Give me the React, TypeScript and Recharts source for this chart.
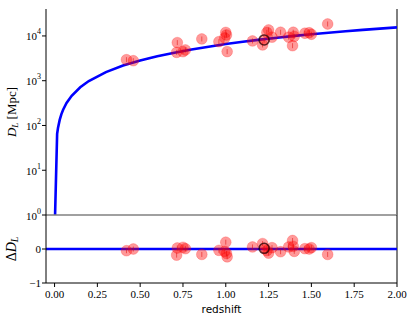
import React from 'react';
import { ComposedChart, Line, Scatter, XAxis, YAxis, ReferenceLine } from 'recharts';

// model curve D_L(z)
const curveZ = [0.003, 0.015, 0.02, 0.03, 0.04, 0.05, 0.07, 0.1, 0.15, 0.2, 0.3, 0.4, 0.5, 0.6, 0.7, 0.8, 0.9, 1.0, 1.1, 1.2, 1.3, 1.4, 1.5, 1.6, 1.7, 1.8, 1.9, 2.0];
const curveDL = [1, 65, 88, 133, 180, 225, 318, 460, 715, 983, 1555, 2190, 2832, 3520, 4235, 4980, 5750, 6607, 7434, 8279, 9140, 10018, 10908, 11812, 12728, 13656, 14593, 15540];

// measured sources
const srcZ = [0.42, 0.46, 0.717, 0.713, 0.75, 0.764, 0.86, 0.96, 1.0, 0.994, 1.004, 1.008, 1.156, 1.215, 1.224, 1.24, 1.25, 1.27, 1.32, 1.367, 1.39, 1.394, 1.4, 1.462, 1.487, 1.5, 1.595];
const srcDL = [2950, 2800, 7100, 4300, 4450, 4860, 8570, 7460, 12000, 9000, 10500, 4470, 7730, 6300, 8130, 12000, 13600, 9400, 12100, 9400, 6060, 12100, 9800, 11500, 11800, 10900, 18500];
const srcRes = [-0.05, 0.0, 0.03, -0.18, 0.05, 0.01, -0.16, -0.04, 0.2, -0.07, -0.13, -0.23, 0.06, 0.16, 0.02, -0.05, -0.12, 0.04, -0.08, 0.06, 0.25, 0.08, -0.07, 0.01, 0.0, 0.04, -0.16];

// highlighted source
const hostZ = [1.224];
const hostDL = [8130];
const hostRes = [0.02];

const xTicks = [0, 0.25, 0.5, 0.75, 1.0, 1.25, 1.5, 1.75, 2.0];
const topTicks = [1, 10, 100, 1000, 10000];
const resTicks = [-1, 0];

const curveData = curveZ.map((z, i) => ({ z, dl: curveDL[i] }));
const srcData = srcZ.map((z, i) => ({ z, dl: srcDL[i], res: srcRes[i] }));
const hostData = hostZ.map((z, i) => ({ z, dl: hostDL[i], res: hostRes[i] }));

const serif = '"Liberation Serif", "DejaVu Serif", serif';

const RedDot = (props: any) => (
  <g>
    <circle cx={props.cx} cy={props.cy} r={5.4} fill="#ff0000" fillOpacity={0.4} stroke="#ff0000" strokeOpacity={0.2} strokeWidth={1} />
    <line x1={props.cx} x2={props.cx} y1={props.cy - 2.5} y2={props.cy + 2.5} stroke="#e00000" strokeOpacity={0.5} strokeWidth={1} />
  </g>
);

const Ring = (props: any) => (
  <circle cx={props.cx} cy={props.cy} r={5} fill="none" stroke="#000" strokeOpacity={0.65} strokeWidth={1.6} />
);

const Nothing = () => <g />;

const XTick = ({ x, y, payload }: any) => (
  <text x={x} y={y} dy={9} textAnchor="middle" fontFamily={serif} fontSize={11} fill="#000">
    {payload.value.toFixed(2)}
  </text>
);

const PowTick = ({ x, y, payload }: any) => (
  <text x={x + 1} y={y} dy={4.5} textAnchor="end" fontFamily={serif} fontSize={11} fill="#000">
    <tspan>10</tspan>
    <tspan dy={-6} fontSize={8}>{Math.round(Math.log10(payload.value))}</tspan>
  </text>
);

const ResTick = ({ x, y, payload }: any) => (
  <text x={x + 1} y={y} dy={4} textAnchor="end" fontFamily={serif} fontSize={11} fill="#000">
    {payload.value < 0 ? '\u2212' + Math.abs(payload.value) : String(payload.value)}
  </text>
);

export default function App() {
  return (
    <div style={{ position: 'absolute', left: 0, top: 0, width: 415, height: 323, background: '#fff' }}>
      <div style={{ position: 'absolute', left: 0, top: 0 }}>
        <ComposedChart width={415} height={230} margin={{ top: 9, right: 18, bottom: 15, left: 0 }}>
          <XAxis
            xAxisId="t"
            orientation="top"
            type="number"
            dataKey="z"
            domain={[-0.05, 2]}
            ticks={xTicks}
            interval={0}
            allowDataOverflow
            height={0}
            tick={Nothing}
            tickSize={4}
            axisLine={{ stroke: '#000' }}
            tickLine={{ stroke: '#000' }}
          />
          <YAxis
            scale="log"
            type="number"
            domain={[1, 40000]}
            ticks={topTicks}
            interval={0}
            allowDataOverflow
            width={46}
            tickSize={4}
            tickMargin={2}
            tick={PowTick}
            axisLine={{ stroke: '#000' }}
            tickLine={{ stroke: '#000' }}
          />
          <ReferenceLine xAxisId="t" x={2} stroke="#000" strokeWidth={1} />
          <Line xAxisId="t" data={curveData} dataKey="dl" type="linear" stroke="#0000ff" strokeWidth={2.6} dot={false} isAnimationActive={false} />
          <Scatter xAxisId="t" data={srcData} dataKey="dl" shape={RedDot} isAnimationActive={false} />
          <Scatter xAxisId="t" data={hostData} dataKey="dl" shape={Ring} isAnimationActive={false} />
          <ReferenceLine xAxisId="t" y={1} stroke="#808080" strokeWidth={1.6} />
          <text transform="rotate(-90, 16, 112)" x={16} y={112} textAnchor="middle" fontFamily={serif} fontSize={13} fill="#000">
            <tspan fontStyle="italic">D</tspan>
            <tspan fontStyle="italic" fontSize={9} dy={2}>L</tspan>
            <tspan dy={-2}> [Mpc]</tspan>
          </text>
        </ComposedChart>
      </div>
      <div style={{ position: 'absolute', left: 0, top: 215 }}>
        <ComposedChart width={415} height={108} margin={{ top: 0, right: 18, bottom: 0, left: 0 }}>
          <XAxis
            type="number"
            dataKey="z"
            domain={[-0.05, 2]}
            ticks={xTicks}
            interval={0}
            allowDataOverflow
            height={40}
            tickSize={4}
            tickMargin={2}
            tick={XTick}
            axisLine={{ stroke: '#000' }}
            tickLine={{ stroke: '#000' }}
            label={{ value: 'redshift', position: 'insideBottom', offset: 10, fontFamily: '"DejaVu Sans", sans-serif', fontSize: 10.5, fill: '#000' }}
          />
          <YAxis
            type="number"
            domain={[-1, 1]}
            ticks={resTicks}
            interval={0}
            allowDataOverflow
            width={46}
            tickSize={4}
            tickMargin={2}
            tick={ResTick}
            axisLine={{ stroke: '#000' }}
            tickLine={{ stroke: '#000' }}
          />
          <ReferenceLine x={2} stroke="#000" strokeWidth={1} />
          <ReferenceLine y={0} stroke="#0000ff" strokeWidth={2.6} />
          <Scatter data={srcData} dataKey="res" shape={RedDot} isAnimationActive={false} />
          <Scatter data={hostData} dataKey="res" shape={Ring} isAnimationActive={false} />
          <text transform="rotate(-90, 16, 34)" x={16} y={34} textAnchor="middle" fontFamily={serif} fontSize={14} fill="#000">
            <tspan>Δ</tspan>
            <tspan fontStyle="italic">D</tspan>
            <tspan fontStyle="italic" fontSize={10} dy={2}>L</tspan>
          </text>
        </ComposedChart>
      </div>
    </div>
  );
}
